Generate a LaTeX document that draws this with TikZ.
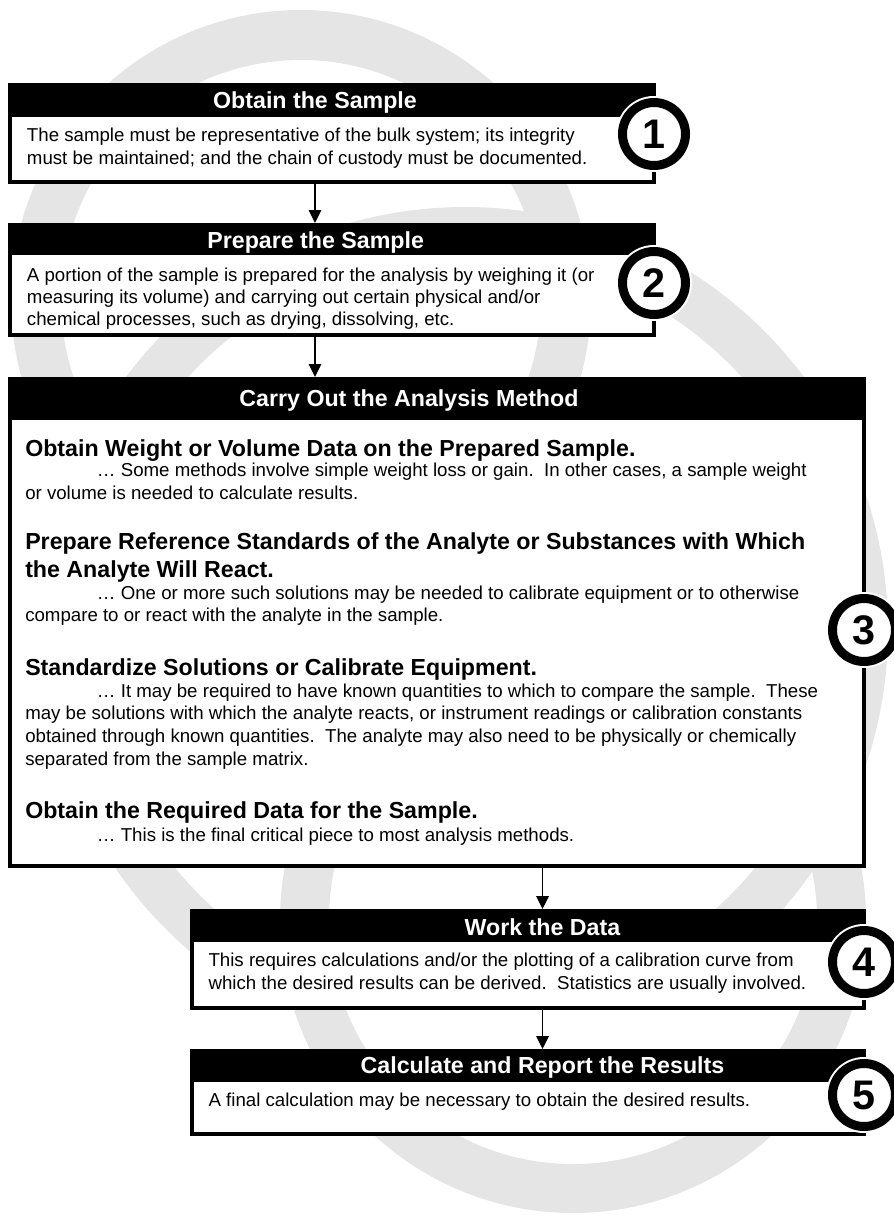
\documentclass[tikz,border=0pt]{standalone}
\usepackage{fontspec}
\setmainfont{Liberation Sans}
\usetikzlibrary{arrows.meta,positioning}
\definecolor{ringgray}{gray}{0.9}
\begin{document}
\begin{tikzpicture}[x=0.75pt,y=-0.75pt,>={Triangle[length=9.75pt,width=9.5pt]},line join=miter,
	stepbox/.style={draw,fill=white,line width=3pt,inner sep=0pt,outer sep=1.5pt,anchor=north west},
	headbar/.style={fill=black,inner sep=0pt,outer sep=0pt,anchor=north west},
	title/.style={text=white,font=\fontsize{17.4}{20}\selectfont\bfseries,inner sep=0pt,anchor=base},
	body/.style={font=\fontsize{14}{17}\selectfont,align=left,inner sep=0pt,anchor=base west},
	subhead/.style={font=\fontsize{17.4}{21}\selectfont\bfseries,align=left,inner sep=0pt,anchor=base west},
	numring/.style={circle,draw,fill=white,line width=6.75pt,minimum size=47.25pt,inner sep=0pt,
		preaction={draw=white,line width=9.75pt},font=\fontsize{31}{31}\selectfont\bfseries},
	flow/.style={->,line width=0.9pt}]
	\useasboundingbox (0,0) rectangle (893,1217);
	\def\dots{\char"2026}
	% background rings
	\fill[ringgray,even odd rule] (301,300) circle[radius=290] (301,300) circle[radius=240];
	\begin{scope}
		\clip (0,0) rectangle (893,1000);
		\fill[ringgray,even odd rule] (465,630) circle[radius=423] (465,630) circle[radius=375];
	\end{scope}
	\fill[ringgray,even odd rule] (573,920) circle[radius=293] (573,920) circle[radius=244];
	% boxes
	\node[stepbox,minimum width=644*0.75pt,minimum height=97*0.75pt] (b1) at (8,83) {};
	\node[headbar,minimum width=648*0.75pt,minimum height=34*0.75pt] (h1) at (8,83) {};
	\node[stepbox,minimum width=644*0.75pt,minimum height=110*0.75pt] (b2) at (8,223) {};
	\node[headbar,minimum width=648*0.75pt,minimum height=32*0.75pt] (h2) at (8,223) {};
	\node[stepbox,minimum width=854*0.75pt,minimum height=487*0.75pt] (b3) at (8,377) {};
	\node[headbar,minimum width=858*0.75pt,minimum height=43*0.75pt] (h3) at (8,377) {};
	\node[stepbox,minimum width=672*0.75pt,minimum height=97*0.75pt] (b4) at (190,909) {};
	\node[headbar,minimum width=676*0.75pt,minimum height=33*0.75pt] (h4) at (190,909) {};
	\node[stepbox,minimum width=672*0.75pt,minimum height=83*0.75pt] (b5) at (190,1049) {};
	\node[headbar,minimum width=676*0.75pt,minimum height=33*0.75pt] (h5) at (190,1049) {};
	% titles
	\node[title] (t1) at (315,108.3) {Obtain the Sample};
	\node[title] (t2) at (315.7,248.3) {Prepare the Sample};
	\node[title] (t3) at (409,406.7) {Carry Out the Analysis Method};
	\node[title] (t4) at (542.5,935) {Work the Data};
	\node[title] (t5) at (542.5,1073.3) {Calculate and Report the Results};
	% texts (anchored at the baseline of the last line)
	\node[body,font=\fontsize{14}{16.75}\selectfont] (p1) at (26.7,164) {The sample must be representative of the bulk system; its integrity\\must be maintained; and the chain of custody must be documented.};
	\node[body,font=\fontsize{14}{16.3}\selectfont] (p2) at (26.7,325.2) {A portion of the sample is prepared for the analysis by weighing it (or\\measuring its volume) and carrying out certain physical and/or\\chemical processes, such as drying, dissolving, etc.};
	\node[subhead] (s1) at (25,456) {Obtain Weight or Volume Data on the Prepared Sample.};
	\node[body,font=\fontsize{14}{16.9}\selectfont] (q1) at (25,499.5) {\hspace*{53.8pt}\dots{} Some methods involve simple weight loss or gain.\ \ In other cases, a sample weight\\or volume is needed to calculate results.};
	\node[subhead] (s2) at (25,577) {Prepare Reference Standards of the Analyte or Substances with Which\\the Analyte Will React.};
	\node[body] (q2) at (25,621.7) {\hspace*{53.8pt}\dots{} One or more such solutions may be needed to calibrate equipment or to otherwise\\compare to or react with the analyte in the sample.};
	\node[subhead] (s3) at (25,675) {Standardize Solutions or Calibrate Equipment.};
	\node[body] (q3) at (25,765) {\hspace*{53.8pt}\dots{} It may be required to have known quantities to which to compare the sample.\ \ These\\may be solutions with which the analyte reacts, or instrument readings or calibration constants\\obtained through known quantities.\ \ The analyte may also need to be physically or chemically\\separated from the sample matrix.};
	\node[subhead] (s4) at (25,818.3) {Obtain the Required Data for the Sample.};
	\node[body] (q4) at (25,841.7) {\hspace*{53.8pt}\dots{} This is the final critical piece to most analysis methods.};
	\node[body] (p4) at (208.3,989.3) {This requires calculations and/or the plotting of a calibration curve from\\which the desired results can be derived.\ \ Statistics are usually involved.};
	\node[body] (p5) at (208.3,1106) {A final calculation may be necessary to obtain the desired results.};
	% arrows
	\draw[flow] (t1 |- b1.south) -- (t1 |- b2.north);
	\draw[flow] (t1 |- b2.south) -- (t1 |- b3.north);
	\draw[flow] (t4 |- b3.south) -- (t4 |- b4.north);
	\draw[flow] (t4 |- b4.south) -- (t4 |- b5.north);
	% step numbers
	\node[numring] (n1) at (654,134) {1};
	\node[numring] (n2) at (654,283) {2};
	\node[numring] (n3) at (864,630) {3};
	\node[numring] (n4) at (864,962) {4};
	\node[numring] (n5) at (864,1095) {5};
\end{tikzpicture}
\end{document}
